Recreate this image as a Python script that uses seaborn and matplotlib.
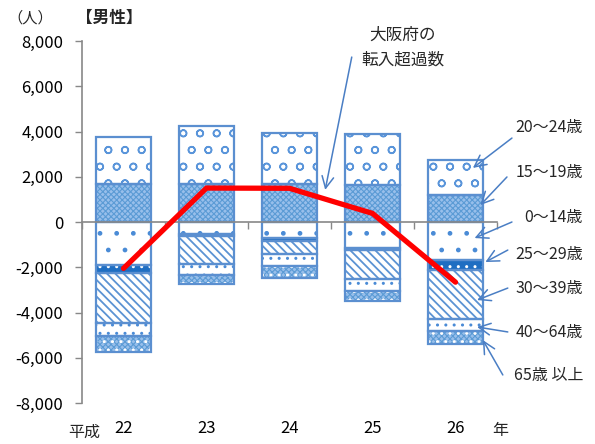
import matplotlib
matplotlib.use("Agg")
import matplotlib.pyplot as plt
import matplotlib.transforms as mtransforms
from matplotlib.ticker import FuncFormatter, FixedLocator
import seaborn as sns
import numpy as np

# Net migration into Osaka Prefecture (males), by age group, Heisei 22-26
years = ["22", "23", "24", "25", "26"]
age_0_14 = [-1900, -540, -720, -1130, -1680]
age_15_19 = [1660, 1670, 1670, 1640, 1190]
age_20_24 = [2100, 2570, 2270, 2230, 1550]
age_25_29 = [-340, -100, -100, -120, -440]
age_30_39 = [-2240, -1230, -610, -1270, -2160]
age_40_64 = [-560, -480, -500, -530, -520]
age_65_up = [-720, -390, -530, -440, -590]
net_inflow = [-2050, 1500, 1490, 380, -2660]

group_labels = ["20～24歳", "15～19歳", "0～14歳", "25～29歳",
                "30～39歳", "40～64歳", "65歳 以上"]

sns.set_theme(style="white")
plt.rcParams["font.family"] = ["Noto Sans CJK JP", "DejaVu Sans"]
plt.rcParams["axes.unicode_minus"] = False

BORDER = "#5B8FD0"
W, H = 595, 444

fig = plt.figure(figsize=(W / 100, H / 100), dpi=100)
ax = fig.add_axes([82 / W, 41 / H, 415 / W, 362 / H])

# fill pattern of each segment: face colour, then hatch layers
# (hatch, hatch colour, hatch linewidth)
checker = ("xxxxxx", "#5B9BD5", 0.8)
segments = [
    (age_15_19, "#98BFEB", [checker]),
    (age_20_24, "#FFFFFF", [("o", "#5A95DA", 1.1)]),
    (age_0_14, "#FFFFFF", [(".", "#4A8BD6", 1.0)]),
    (age_25_29, "#1F6EC2", [("..", "#FFFFFF", 1.0)]),
    (age_30_39, "#FFFFFF", [("\\\\\\\\", "#5B93D3", 1.3)]),
    (age_40_64, "#FFFFFF", [("..", "#4A8BD6", 1.0)]),
    (age_65_up, "#98BFEB", [checker, ("..", "#FFFFFF", 1.0)]),
]

pos_base = np.zeros(len(years))
neg_base = np.zeros(len(years))
for vals, face, layers in segments:
    vals = np.asarray(vals, dtype=float)
    if vals[0] >= 0:
        base = pos_base.copy()
        pos_base += vals
    else:
        base = neg_base.copy()
        neg_base += vals
    common = dict(x=years, y=vals, order=years, bottom=base, ax=ax,
                  saturation=1, width=0.67, errorbar=None)
    for k, (hatch, hcol, hlw) in enumerate(layers):
        with plt.rc_context({"hatch.linewidth": hlw}):
            if k == 0:
                sns.barplot(**common, color=face, edgecolor=hcol,
                            linewidth=0, hatch=hatch, zorder=2)
            else:
                sns.barplot(**common, color=hcol, fill=False,
                            linewidth=0, hatch=hatch, zorder=2)
    sns.barplot(**common, color=BORDER, fill=False, linewidth=1.6, zorder=3)

# net inflow line
sns.lineplot(x=np.arange(len(years)), y=net_inflow, ax=ax, color="#FF0000",
             linewidth=3.8, solid_capstyle="round", solid_joinstyle="miter",
             zorder=5)

# axes styling
ax.set_xlim(-0.5, len(years) - 0.5)
ax.set_ylim(-8000, 8000)
ax.set_yticks(np.arange(-8000, 8001, 2000))
ax.yaxis.set_major_formatter(FuncFormatter(lambda v, _: f"{int(v):,}"))
ax.tick_params(axis="y", direction="out", length=5, width=1, color="#888888",
               labelsize=12, pad=8.5, labelcolor="#000000", left=True)
ax.set_xlabel("")
ax.set_ylabel("")
for side in ("top", "right"):
    ax.spines[side].set_visible(False)
ax.spines["left"].set_color("#888888")
ax.spines["left"].set_linewidth(1.2)
ax.spines["bottom"].set_position(("data", 0))
ax.spines["bottom"].set_color("#888888")
ax.spines["bottom"].set_linewidth(1.2)
ax.spines["bottom"].set_zorder(4)
ax.xaxis.set_major_locator(FixedLocator(np.arange(-0.5, len(years), 1.0)))
ax.set_xticklabels([])
ax.tick_params(axis="x", direction="out", length=5, width=1, color="#888888",
               bottom=True)

# category labels under the plot
blend = mtransforms.blended_transform_factory(ax.transData, fig.transFigure)
for i, yr in enumerate(years):
    ax.text(i, 1 - 428 / H, yr, transform=blend, ha="center", va="center",
            fontsize=12, color="#000000")
fig.text(84 / W, 1 - 432 / H, "平成", ha="center", va="center", fontsize=11.5)
fig.text(500 / W, 1 - 430 / H, "年", ha="center", va="center", fontsize=11.5)

# titles
fig.text(30 / W, 1 - 18 / H, "（人）", ha="center", va="center", fontsize=11)
fig.text(109 / W, 1 - 18 / H, "【男性】", ha="center", va="center",
         fontsize=12, fontweight="bold")

# net inflow annotation
fig.text(403 / W, 1 - 35 / H, "大阪府の", ha="center", va="center", fontsize=12)
fig.text(403 / W, 1 - 60 / H, "転入超過数", ha="center", va="center", fontsize=12)
arrow_kw = dict(arrowstyle="->,head_length=0.7,head_width=0.35",
                color="#4A7EC4", lw=1.1, shrinkA=0, shrinkB=0)
ax.annotate("", xy=(2.43, 1420), xytext=(2.75, 7290),
            arrowprops=arrow_kw, annotation_clip=False)

# age-group labels with arrows into the last bar
label_y = [127, 172, 217, 254, 288, 332, 375]
arrow_from = [(4.68, 3710), (4.62, 1990), (4.68, 0), (4.63, -1240),
              (4.63, -2920), (4.63, -4860), (4.57, -6760)]
arrow_to = [(4.21, 2390), (4.30, 750), (4.23, -710), (4.36, -1770),
            (4.26, -3450), (4.26, -4640), (4.33, -5220)]
for lab, ly, a0, a1 in zip(group_labels, label_y, arrow_from, arrow_to):
    fig.text(583 / W, 1 - ly / H, lab, ha="right", va="center", fontsize=11.5)
    ax.annotate("", xy=a1, xytext=a0, arrowprops=arrow_kw,
                annotation_clip=False)

fig.savefig("out.png", dpi=100)
